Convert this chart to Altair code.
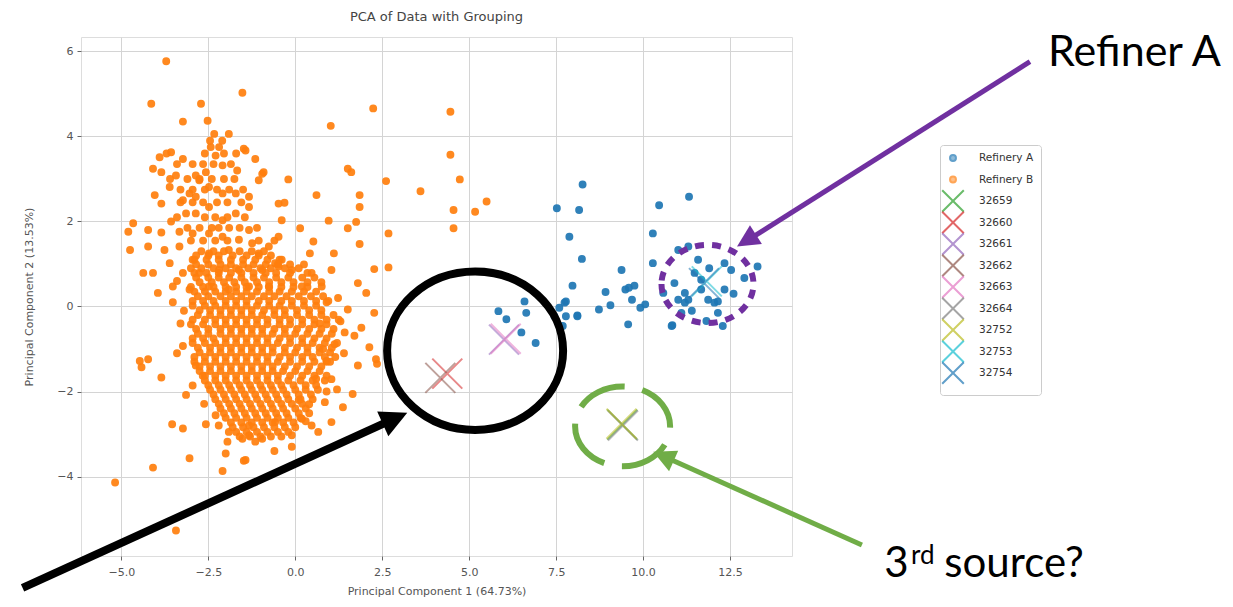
import altair as alt
import pandas as pd

# ---------------- data ----------------
groups = ["Refinery A", "Refinery B", "32659", "32660", "32661", "32662",
          "32663", "32664", "32752", "32753", "32754"]
colors = ["#1f77b4", "#ff7f0e", "#2ca02c", "#d62728", "#9467bd", "#8c564b",
          "#e377c2", "#7f7f7f", "#bcbd22", "#17becf", "#1f77b4"]

refinery_a = [
    (8.26, 2.87), (7.52, 2.31), (8.16, 2.27), (10.46, 2.38), (11.32, 2.58), (7.88, 1.64),
    (10.28, 1.72), (8.24, 1.12), (10.28, 1.02), (9.38, 0.86), (13.29, 0.94), (7.97, 0.49),
    (8.92, 0.34), (9.49, 0.40), (9.75, 0.49), (9.68, 0.16), (9.06, 0.03), (8.73, -0.07),
    (10.06, 0.05), (9.92, -0.03), (8.11, -0.21), (7.74, 0.09), (7.59, -0.03), (7.78, -0.23),
    (7.69, -0.46), (6.64, -0.15), (5.84, -0.11), (6.07, -0.30), (6.50, -0.61), (9.57, -0.42),
    (10.84, -0.44), (10.58, 0.32), (11.20, 0.32), (11.01, 1.33), (11.30, 1.41), (11.58, 1.10),
    (12.34, 1.02), (12.53, 0.86), (12.91, 0.67), (12.34, 0.40), (11.67, 0.40), (11.30, 0.16),
    (11.20, 0.09), (11.87, 0.16), (12.05, 0.09), (12.15, -0.15), (11.82, -0.34), (12.29, -0.46),
    (11.10, -0.15), (11.67, 0.63), (11.48, 0.79), (6.91, -0.86), (6.59, 0.12), (7.78, 0.12),
    (7.45, -0.23), (8.11, -0.23), (9.59, 0.44), (10.82, -0.46), (12.15, 0.12), (11.01, 0.16),
    (11.40, -0.10), (11.90, 0.90), (12.60, 0.30), (10.90, 0.55),
]

refinery_b_scattered = [
    (-3.71, 5.77), (-4.14, 4.77), (-2.71, 4.77), (-1.52, 5.03), (-3.23, 4.35), (-2.52, 4.37),
    (-2.33, 4.06), (-1.91, 4.06), (-1.48, 3.71), (-2.43, 3.75), (-2.19, 3.75), (-2.29, 3.55),
    (-3.90, 3.51), (-3.57, 3.63), (-3.23, 3.47), (-4.09, 3.24), (-3.85, 3.16), (-3.43, 3.08),
    (-2.86, 3.08), (-2.57, 3.16), (-2.09, 3.32), (-1.67, 3.20), (-1.15, 3.47), (-0.91, 3.16),
    (-1.05, 2.97), (-1.33, 2.58), (-1.33, 2.34), (-1.71, 2.66), (-1.71, 2.19), (-2.09, 2.66),
    (-2.48, 2.81), (-2.76, 2.97), (-3.04, 2.66), (-3.23, 2.50), (-4.04, 2.62), (-3.85, 2.42),
    (-3.61, 2.81), (-2.86, 2.58), (-2.48, 2.34), (-2.86, 2.19), (-3.14, 2.19), (-2.09, 2.03),
    (-0.48, 2.42), (-4.66, 1.96), (-4.80, 1.76), (-4.23, 1.80), (-3.85, 1.74), (-3.57, 2.00),
    (-3.33, 1.76), (-2.95, 1.72), (-2.48, 1.72), (-2.09, 1.64), (-4.75, 1.33), (-4.23, 1.41),
    (-3.76, 1.33), (-3.33, 1.41), (-4.37, 0.79), (-4.09, 0.79), (-3.52, 0.47), (-3.95, 0.32),
    (-1.33, 1.80), (-1.62, 1.57), (-1.24, 1.49), (-0.76, 1.41), (-0.48, 1.64), (-1.05, 1.25),
    (-1.91, 1.33), (-2.48, 1.25), (-2.95, 1.10), (-3.61, 1.02), (-3.23, 0.79), (-2.76, 0.79),
    (-2.19, 0.86), (-1.62, 0.86), (-0.95, 0.86), (-0.58, 1.02), (-3.04, 0.40), (-2.48, 0.47),
    (-1.91, 0.40), (-1.33, 0.47), (-0.76, 0.47),
    (2.24, 4.66), (4.46, 4.58), (1.02, 4.25), (4.46, 3.57), (1.51, 3.24), (1.61, 3.16),
    (4.73, 2.99), (2.61, 2.95), (3.60, 2.71), (-0.20, 2.99), (0.61, 2.62), (1.85, 2.62),
    (1.85, 2.34), (-0.31, 2.44), (5.50, 2.47), (4.55, 2.27), (5.17, 2.23), (-0.39, 2.03),
    (0.96, 2.02), (1.75, 1.99), (0.14, 1.84), (1.51, 1.84), (4.55, 1.84), (2.68, 1.72),
    (1.85, 1.47), (0.52, 1.53), (1.11, 1.25), (0.42, 1.25), (1.04, 0.86), (2.27, 0.88),
    (2.68, 0.92), (-0.39, 1.10), (-0.10, 0.86), (0.47, 0.79), (2.04, 0.32), (-0.95, 3.12),
    (-1.43, 3.67), (-0.48, 0.94), (0.19, 0.47), (0.76, 0.47),
    (-3.52, 0.10), (-3.23, -0.93), (-4.47, -1.28), (-4.23, -1.24), (-4.42, -1.43), (-3.85, -1.67),
    (-3.14, -2.08), (-2.62, -2.29), (-2.29, -2.56), (-2.57, -2.77), (-3.54, -2.77), (-3.23, -2.87),
    (-1.91, -2.95), (-1.95, -3.18), (-2.00, -3.46), (-3.04, -3.57), (-4.09, -3.79), (-1.48, -3.63),
    (-2.09, -3.87), (-5.18, -4.14), (-3.43, -5.27), (-1.52, -3.11), (-1.15, -3.18), (-1.33, -2.80),
    (-2.95, -1.86), (-2.66, -1.63), (-2.86, -1.39),
    (2.27, -0.15), (1.23, 0.20), (1.51, -0.07), (1.42, -0.61), (1.70, -0.69), (2.13, -0.96),
    (2.32, -1.24), (1.80, -1.39), (1.65, -2.06), (1.37, -2.37), (1.04, -2.72), (0.66, -2.95),
    (0.47, -2.80), (0.85, -2.25), (1.04, -1.71), (0.90, -1.28), (0.80, -1.00), (1.13, -0.89),
    (-1.43, -3.61), (-0.10, -3.03), (-0.58, -2.72), (0.19, -2.64), (-0.95, -3.11), (-1.33, -3.03),
    (0.90, 0.10), (1.30, -0.35), (0.70, -0.40), (1.00, -1.30), (1.40, -1.10), (0.60, -1.70),
    (1.20, -1.95), (0.40, -2.30), (0.90, -2.00), (0.30, -2.70), (1.90, -0.50), (1.80, 0.55),
    (2.35, -1.35), (-3.30, -0.40), (-3.40, -1.10), (-3.20, -0.10), (-3.40, 0.60), (-2.20, -2.80),
    (-0.10, -3.30), (-0.60, -3.40), (0.10, -2.20),
]

# dense parts of Refinery B, read row by row (y: list of x)
refinery_b_core_rows = {
    3.90: [-2.45, -2.1],
    3.60: [-3.7, -2.6, -2.05, -1.7],
    3.35: [-3.4, -2.95, -2.65, -2.35, -1.85],
    3.00: [-3.6, -3.1, -2.75, -2.4, -2.05, -1.75],
    2.75: [-3.3, -2.95, -2.6, -2.25, -1.9, -1.5],
    2.45: [-3.3, -2.95, -2.65, -2.25, -1.95, -1.55],
    2.10: [-3.4, -2.6, -2.3, -1.95, -1.45],
    1.85: [-3.1, -2.75, -2.4, -2.2, -1.9, -1.6, -1.1],
    1.55: [-3.0, -2.65, -2.3, -1.95, -1.05, -0.6],
    1.30: [-2.7, -2.35, -2.05, -1.6, -1.25, -0.9],
    1.20: [-2.85, -2.5, -2.2, -1.8, -1.4, -1.05, -0.7],
    1.10: [-2.9, -2.55, -2.2, -1.85, -1.5, -1.15, -0.8, -0.45],
    0.99: [-2.85, -2.5, -2.15, -1.85, -1.5, -1.2, -0.85, -0.5, -0.15, 0.25],
    0.90: [-3.0, -2.7, -2.35, -2.0, -1.7, -1.35, -1.0, -0.7, -0.3, 0.1],
    0.79: [-2.9, -2.55, -2.2, -1.85, -1.55, -1.2, -0.85, -0.55, -0.15, 0.35],
    0.68: [-2.85, -2.5, -2.2, -1.9, -1.55, -1.2, -0.9, -0.55, -0.2, 0.2, 0.55],
    0.57: [-2.75, -2.4, -2.05, -1.75, -1.45, -1.1, -0.75, -0.4, -0.05, 0.35, 0.75],
    0.46: [-3.0, -2.65, -2.35, -2.0, -1.7, -1.4, -1.05, -0.75, -0.4, -0.05, 0.35],
    0.35: [-2.9, -2.6, -2.3, -2.0, -1.7, -1.4, -1.1, -0.75, -0.45, -0.1, 0.25, 0.6],
    0.24: [-2.8, -2.5, -2.15, -1.85, -1.55, -1.25, -0.9, -0.6, -0.25, 0.1, 0.45, 0.8],
    0.13: [-2.95, -2.65, -2.35, -2.0, -1.7, -1.4, -1.05, -0.75, -0.4, -0.1, 0.25, 0.6, 0.95],
    0.02: [-2.95, -2.6, -2.3, -2.0, -1.7, -1.4, -1.1, -0.75, -0.45, -0.1, 0.25, 0.6],
    -0.09: [-2.75, -2.45, -2.15, -1.85, -1.55, -1.25, -0.9, -0.6, -0.3, 0.05, 0.4, 0.75],
    -0.20: [-2.8, -2.45, -2.15, -1.85, -1.55, -1.25, -0.95, -0.6, -0.3, 0.05, 0.4, 0.75, 1.1],
    -0.31: [-2.95, -2.6, -2.3, -2.0, -1.7, -1.4, -1.1, -0.8, -0.45, -0.15, 0.2, 0.55, 0.9, 1.25],
    -0.42: [-3.0, -2.65, -2.3, -2.0, -1.7, -1.4, -1.1, -0.8, -0.45, -0.15, 0.2, 0.55, 0.9],
    -0.53: [-2.85, -2.5, -2.15, -1.85, -1.55, -1.25, -0.95, -0.6, -0.3, 0.05, 0.4, 0.75, 1.1],
    -0.64: [-2.8, -2.5, -2.15, -1.85, -1.55, -1.25, -0.95, -0.65, -0.3, 0.0, 0.35, 0.7, 1.05],
    -0.75: [-2.95, -2.65, -2.35, -2.0, -1.7, -1.4, -1.1, -0.8, -0.45, -0.15, 0.2, 0.55, 0.9],
    -0.86: [-2.95, -2.6, -2.3, -2.0, -1.7, -1.4, -1.1, -0.8, -0.5, -0.15, 0.2, 0.5, 0.85, 1.2],
    -0.97: [-2.8, -2.45, -2.15, -1.85, -1.55, -1.25, -0.95, -0.65, -0.3, 0.05, 0.35, 0.7, 1.05],
    -1.08: [-2.75, -2.45, -2.15, -1.85, -1.55, -1.25, -0.95, -0.65, -0.3, 0.0, 0.35, 0.7, 1.0],
    -1.19: [-2.9, -2.6, -2.3, -2.0, -1.7, -1.4, -1.1, -0.8, -0.45, -0.15, 0.2, 0.5, 0.85, 1.15],
    -1.30: [-2.9, -2.6, -2.3, -2.0, -1.7, -1.4, -1.1, -0.8, -0.5, -0.15, 0.2, 0.55, 0.9],
    -1.41: [-2.75, -2.45, -2.15, -1.85, -1.55, -1.25, -0.95, -0.65, -0.3, 0.05, 0.4, 0.75],
    -1.52: [-2.75, -2.45, -2.15, -1.85, -1.55, -1.25, -0.95, -0.65, -0.35, 0.0, 0.35, 0.7],
    -1.63: [-2.6, -2.3, -2.0, -1.7, -1.4, -1.1, -0.8, -0.5, -0.15, 0.2, 0.55, 0.9],
    -1.74: [-2.6, -2.3, -2.0, -1.7, -1.4, -1.1, -0.8, -0.5, -0.2, 0.15, 0.5, 0.85],
    -1.85: [-2.5, -2.2, -1.9, -1.6, -1.3, -1.0, -0.7, -0.4, -0.05, 0.3, 0.6],
    -1.96: [-2.45, -2.15, -1.85, -1.55, -1.25, -0.95, -0.65, -0.35, 0.0, 0.3, 0.65],
    -2.07: [-2.35, -2.05, -1.75, -1.45, -1.15, -0.85, -0.55, -0.25, 0.1, 0.45],
    -2.18: [-2.3, -2.0, -1.7, -1.4, -1.1, -0.8, -0.5, -0.2, 0.15, 0.5],
    -2.29: [-2.2, -1.9, -1.6, -1.3, -1.0, -0.7, -0.4, -0.1, 0.2],
    -2.40: [-2.15, -1.85, -1.55, -1.25, -0.95, -0.65, -0.35, 0.0, 0.3],
    -2.51: [-2.05, -1.75, -1.45, -1.15, -0.85, -0.55, -0.25, 0.1, 0.4],
    -2.62: [-2.0, -1.7, -1.4, -1.1, -0.8, -0.5, -0.2, 0.15],
    -2.73: [-1.85, -1.55, -1.25, -0.95, -0.65, -0.35, -0.05],
    -2.84: [-1.8, -1.5, -1.2, -0.9, -0.6, -0.3, 0.0],
    -2.95: [-1.7, -1.4, -1.1, -0.8, -0.5, -0.2],
    -3.06: [-1.6, -1.3, -1.0, -0.7, -0.4],
}

centroid_groups = ["32659", "32664", "32752", "32660", "32662", "32661", "32663", "32753", "32754"]
centroid_x = [9.40, 9.42, 9.38, 4.37, 4.17, 6.00, 6.05, 11.83, 11.75]
centroid_y = [-2.78, -2.80, -2.76, -1.58, -1.68, -0.78, -0.76, 0.59, 0.55]

x_ticks = [-5.0, -2.5, 0.0, 2.5, 5.0, 7.5, 10.0, 12.5]
y_ticks = [-4, -2, 0, 2, 4, 6]

# annotations (in data coordinates)
ellipse_x = [5.17, 11.85, 9.41]
ellipse_y = [-1.04, 0.53, -2.82]
arrow_tail_x = [-7.84, 21.12, 16.29]
arrow_tail_y = [-6.62, 5.76, -5.61]
arrow_tip_x = [3.22, 12.70, 10.29]
arrow_tip_y = [-2.50, 1.41, -3.42]
arrow_end_x = [2.82, 13.07, 10.68]
arrow_end_y = [-2.65, 1.59, -3.56]
label_texts = ["Refiner A", "3", "rd", "source?"]
label_x = [21.64, 16.93, 17.70, 18.66]
label_y = [5.65, -6.37, -6.05, -6.37]

# ---------------- build table ----------------
rows = []
for (x, y) in refinery_a:
    rows.append({"x": x, "y": y, "group": "Refinery A", "kind": "point"})
for (x, y) in refinery_b_scattered:
    rows.append({"x": x, "y": y, "group": "Refinery B", "kind": "point"})
for yv, xs in refinery_b_core_rows.items():
    for xv in xs:
        rows.append({"x": xv, "y": yv, "group": "Refinery B", "kind": "point"})
for g, x, y in zip(centroid_groups, centroid_x, centroid_y):
    rows.append({"x": x, "y": y, "group": g, "kind": "centroid"})
df = pd.DataFrame(rows)

# symbol paths (unit = sqrt(size)/2 px); the leading moves of DOT only widen its bounds
DOT = "M-2.16,-2.16M2.16,2.16M-0.59,0A0.59,0.59,0,1,0,0.59,0A0.59,0.59,0,1,0,-0.59,0Z"
XP = "M-2.16,-2.16L2.16,2.16M-2.16,2.16L2.16,-2.16"
shapes = [DOT, DOT] + [XP] * 9

W, H = 711, 519
xscale = alt.Scale(domain=[-6.16, 14.28], nice=False, zero=False)
yscale = alt.Scale(domain=[-5.87, 6.34], nice=False, zero=False)

legend = alt.Legend(title=None, orient="none", legendX=859, legendY=108,
                    labelFontSize=10.5, labelColor="#333", labelFont="DejaVu Sans",
                    padding=7, strokeColor="#cccccc", fillColor="white",
                    cornerRadius=3, rowPadding=-8.5, symbolSize=100, symbolStrokeWidth=2,
                    labelOffset=20)

xaxis = alt.Axis(values=x_ticks, format=".1f", title="Principal Component 1 (64.73%)",
                 labelFontSize=11, titleFontSize=11, labelColor="#555", titleColor="#555",
                 tickColor="#666", tickSize=4, grid=True, gridColor="#d4d4d4", domain=False,
                 titleFontWeight="normal", labelFont="DejaVu Sans", titleFont="DejaVu Sans",
                 titlePadding=8, labelPadding=6)
yaxis = alt.Axis(values=y_ticks, format="d", title="Principal Component 2 (13.53%)",
                 labelFontSize=11, titleFontSize=11, labelColor="#555", titleColor="#555",
                 tickColor="#666", tickSize=4, grid=True, gridColor="#d4d4d4", domain=False,
                 titleFontWeight="normal", labelFont="DejaVu Sans", titleFont="DejaVu Sans",
                 titlePadding=22, labelPadding=4)

scatter = alt.Chart(df).transform_calculate(
    sz="datum.kind == 'centroid' ? 193 : 100",
    op="datum.kind == 'centroid' ? 0.55 : 0.92",
).mark_point(strokeWidth=2).encode(
    x=alt.X("x:Q", scale=xscale, axis=xaxis),
    y=alt.Y("y:Q", scale=yscale, axis=yaxis),
    fill=alt.Fill("group:N", scale=alt.Scale(domain=groups, range=colors), legend=legend),
    stroke=alt.Stroke("group:N", scale=alt.Scale(domain=groups, range=colors), legend=legend),
    shape=alt.Shape("group:N", scale=alt.Scale(domain=groups, range=shapes), legend=legend),
    size=alt.Size("sz:Q", scale=None, legend=None),
    opacity=alt.Opacity("op:Q", scale=None, legend=None),
)

layers = [scatter]

# ellipses
ell_specs = [
    ("M-1,0A1,0.9,0,1,0,1,0A1,0.9,0,1,0,-1,0Z", 30976, "#000000", 8, None),
    ("M-1,0A1,0.85,0,1,0,1,0A1,0.85,0,1,0,-1,0Z", 8464, "#7030A0", 6, [9, 8]),
    ("M-1,0A1,0.84,0,1,0,1,0A1,0.84,0,1,0,-1,0Z", 9025, "#70AD47", 6, [50, 18]),
]
for i, (path, sz, col, sw, dash) in enumerate(ell_specs):
    d = pd.DataFrame({"x": [ellipse_x[i]], "y": [ellipse_y[i]]})
    kw = dict(shape=path, size=sz, filled=False, stroke=col, strokeWidth=sw, opacity=1)
    if dash:
        kw["strokeDash"] = dash
    layers.append(alt.Chart(d).mark_point(**kw).encode(
        x=alt.X("x:Q", scale=xscale), y=alt.Y("y:Q", scale=yscale)))

# arrows
arrow_specs = [("#000000", 8, 2900, 65.6), ("#7030A0", 5, 2000, 237.7), ("#70AD47", 5, 2000, 294.0)]
HEAD = "M0,0L-0.5,1L0.5,1Z"
for i, (col, sw, hs, ang) in enumerate(arrow_specs):
    d = pd.DataFrame({"x": [arrow_tail_x[i]], "y": [arrow_tail_y[i]],
                      "x2": [arrow_end_x[i]], "y2": [arrow_end_y[i]]})
    layers.append(alt.Chart(d).mark_rule(color=col, strokeWidth=sw).encode(
        x=alt.X("x:Q", scale=xscale), y=alt.Y("y:Q", scale=yscale), x2="x2:Q", y2="y2:Q"))
    h = pd.DataFrame({"x": [arrow_tip_x[i]], "y": [arrow_tip_y[i]]})
    layers.append(alt.Chart(h).mark_point(shape=HEAD, size=hs, filled=True, fill=col,
                                          strokeWidth=0, opacity=1, angle=ang).encode(
        x=alt.X("x:Q", scale=xscale), y=alt.Y("y:Q", scale=yscale)))

# texts
font_sizes = [43, 42, 26, 42]
for i, t in enumerate(label_texts):
    d = pd.DataFrame({"x": [label_x[i]], "y": [label_y[i]], "t": [t]})
    layers.append(alt.Chart(d).mark_text(font="Lato", fontSize=font_sizes[i], align="left",
                                         baseline="alphabetic", color="#000000").encode(
        x=alt.X("x:Q", scale=xscale), y=alt.Y("y:Q", scale=yscale), text="t:N"))

chart = alt.layer(*layers).properties(
    width=W, height=H,
    title=alt.TitleParams("PCA of Data with Grouping", fontSize=13, fontWeight="normal",
                          font="DejaVu Sans", color="#444", offset=8),
    padding={"left": 81, "top": 37, "right": 441, "bottom": 51},
    autosize=alt.AutoSizeParams(type="none"),
).configure_view(stroke="#888888", strokeWidth=1.2).configure(background="white")

chart.save("out.html", embed_options={"renderer": "svg", "actions": False})
